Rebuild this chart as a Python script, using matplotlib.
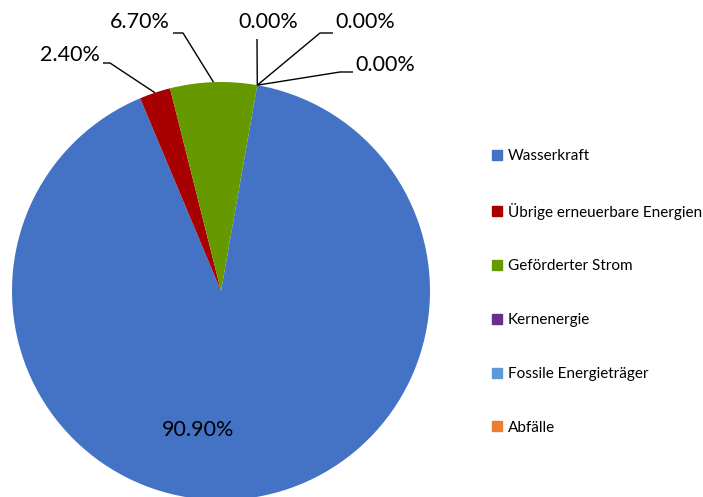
import numpy as np
import matplotlib
matplotlib.use("Agg")
import matplotlib.pyplot as plt
from matplotlib.lines import Line2D

plt.rcParams["font.family"] = ["Lato", "DejaVu Sans"]

categories = ["Wasserkraft", "Übrige erneuerbare Energien", "Geförderter Strom",
              "Kernenergie", "Fossile Energieträger", "Abfälle"]
shares = [90.9, 2.4, 6.7, 0.0, 0.0, 0.0]
labels = ["90.90%", "2.40%", "6.70%", "0.00%", "0.00%", "0.00%"]
colors = ["#4472C4", "#A80000", "#669900", "#6A2C91", "#5B9BD5", "#ED7D31"]

W, H = 703, 497
CX, CY, R = 221, H - 291, 209
START = 80  # degrees, counter-clockwise from +x (10 deg right of 12 o'clock)

fig = plt.figure(figsize=(W / 100, H / 100), dpi=100)
ax = fig.add_axes([0, 0, 1, 1])

ax.pie(shares, colors=colors, startangle=START, counterclock=False,
       center=(CX, CY), radius=R, frame=False,
       wedgeprops=dict(linewidth=0))
ax.set_xlim(0, W)
ax.set_ylim(0, H)
ax.set_aspect("equal")
ax.axis("off")

# mid angle of every slice (deg, ccw from +x)
cum = np.cumsum([0] + shares)
mids = START - 3.6 * (cum[:-1] + cum[1:]) / 2

def edge(ang):
    a = np.deg2rad(ang)
    return CX + R * np.cos(a), CY + R * np.sin(a)

fs = 15.5
# inside label for the big slice
ax.text(198, H - 430, labels[0], ha="center", va="center", fontsize=fs)

# outside labels: (text pos, elbow start, elbow end) in image px
out_layout = {
    1: ((70, 55), (103, 63), (110, 63)),
    2: ((140, 22), (173, 33), (183, 33)),
    3: ((268, 22), None, (257, 39)),
    4: ((365, 22), (333, 33), (320, 33)),
    5: ((385, 65), (353, 72), (340, 72)),
}
for i, (tpos, e0, e1) in out_layout.items():
    ex, ey = edge(mids[i])
    ax.text(tpos[0], H - tpos[1], labels[i], ha="center", va="center", fontsize=fs)
    xs, ys = [], []
    if e0 is not None:
        xs.append(e0[0]); ys.append(H - e0[1])
    xs += [e1[0], ex]; ys += [H - e1[1], ey]
    ax.plot(xs, ys, color="black", lw=1.0, solid_capstyle="butt")

handles = [Line2D([], [], marker="s", linestyle="none", markersize=7,
                  markerfacecolor=c, markeredgecolor=c) for c in colors]
fig.legend(handles, categories, loc="upper left", bbox_to_anchor=(492 / W, 1 - 149 / H),
           frameon=False, fontsize=11, labelspacing=2.6, handlelength=0.7,
           handletextpad=0.35, borderaxespad=0, borderpad=0)

fig.savefig("out.png", dpi=100)
